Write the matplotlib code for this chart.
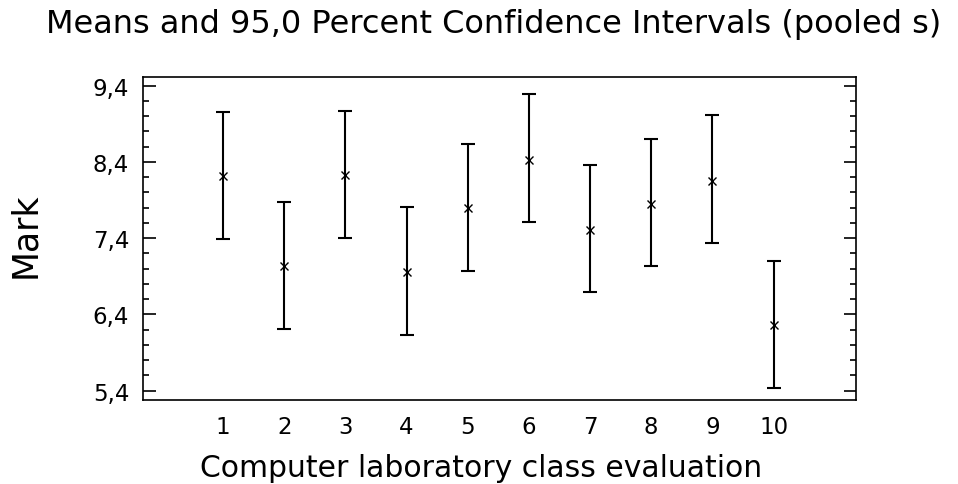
import matplotlib
matplotlib.use("Agg")
import matplotlib.pyplot as plt
from matplotlib.ticker import MultipleLocator, FixedLocator

plt.rcParams['font.family'] = ['DejaVu Sans']

# datos
grupos = [1, 2, 3, 4, 5, 6, 7, 8, 9, 10]
medias = [8.21, 7.03, 8.23, 6.96, 7.79, 8.43, 7.51, 7.85, 8.15, 6.26]
inferior = [7.385, 6.206, 7.398, 6.131, 6.968, 7.613, 6.692, 7.03, 7.336, 5.435]
superior = [9.058, 7.88, 9.071, 7.81, 8.638, 9.29, 8.362, 8.699, 9.01, 7.104]
yticks = [5.4, 6.4, 7.4, 8.4, 9.4]
ytick_labels = ["5,4", "6,4", "7,4", "8,4", "9,4"]

err_low = [m - lo for m, lo in zip(medias, inferior)]
err_high = [hi - m for m, hi in zip(medias, superior)]

fig = plt.figure(figsize=(9.58, 4.85), dpi=100)
ax = fig.add_axes([0.1493, 0.1742, 0.7443, 0.665])

ax.errorbar(grupos, medias, yerr=[err_low, err_high], fmt='none',
            ecolor='black', elinewidth=1.5, capsize=5, capthick=1.5)
ax.plot(grupos, medias, linestyle='none', marker='x', color='black',
        markersize=6, markeredgewidth=1)

ax.set_xlim(-0.31, 11.35)
ax.set_ylim(5.282, 9.514)
ax.set_xticks(grupos)
ax.set_xticklabels([str(g) for g in grupos])
ax.yaxis.set_major_locator(FixedLocator(yticks))
ax.set_yticklabels(ytick_labels)
ax.yaxis.set_minor_locator(MultipleLocator(0.2))

ax.tick_params(axis='y', which='major', direction='in', length=9, width=1.2,
               left=True, right=True, labelsize=16.5, pad=10)
ax.tick_params(axis='y', which='minor', direction='in', length=4.5, width=1.2,
               left=True, right=True)
ax.tick_params(axis='x', which='both', length=0, labelsize=16.5, pad=11)

for s in ax.spines.values():
    s.set_linewidth(1.2)

# titulo y etiquetas de ejes
fig.text(0.5156, 0.932, "Means and 95,0 Percent Confidence Intervals (pooled s)",
         fontsize=23, ha='center', va='baseline')
fig.text(0.5026, 0.0165, "Computer laboratory class evaluation",
         fontsize=21.5, ha='center', va='baseline')
fig.text(0.026, 0.5144, "Mark", fontsize=25, rotation=90,
         ha='center', va='center')

fig.savefig("out.png", dpi=100)
